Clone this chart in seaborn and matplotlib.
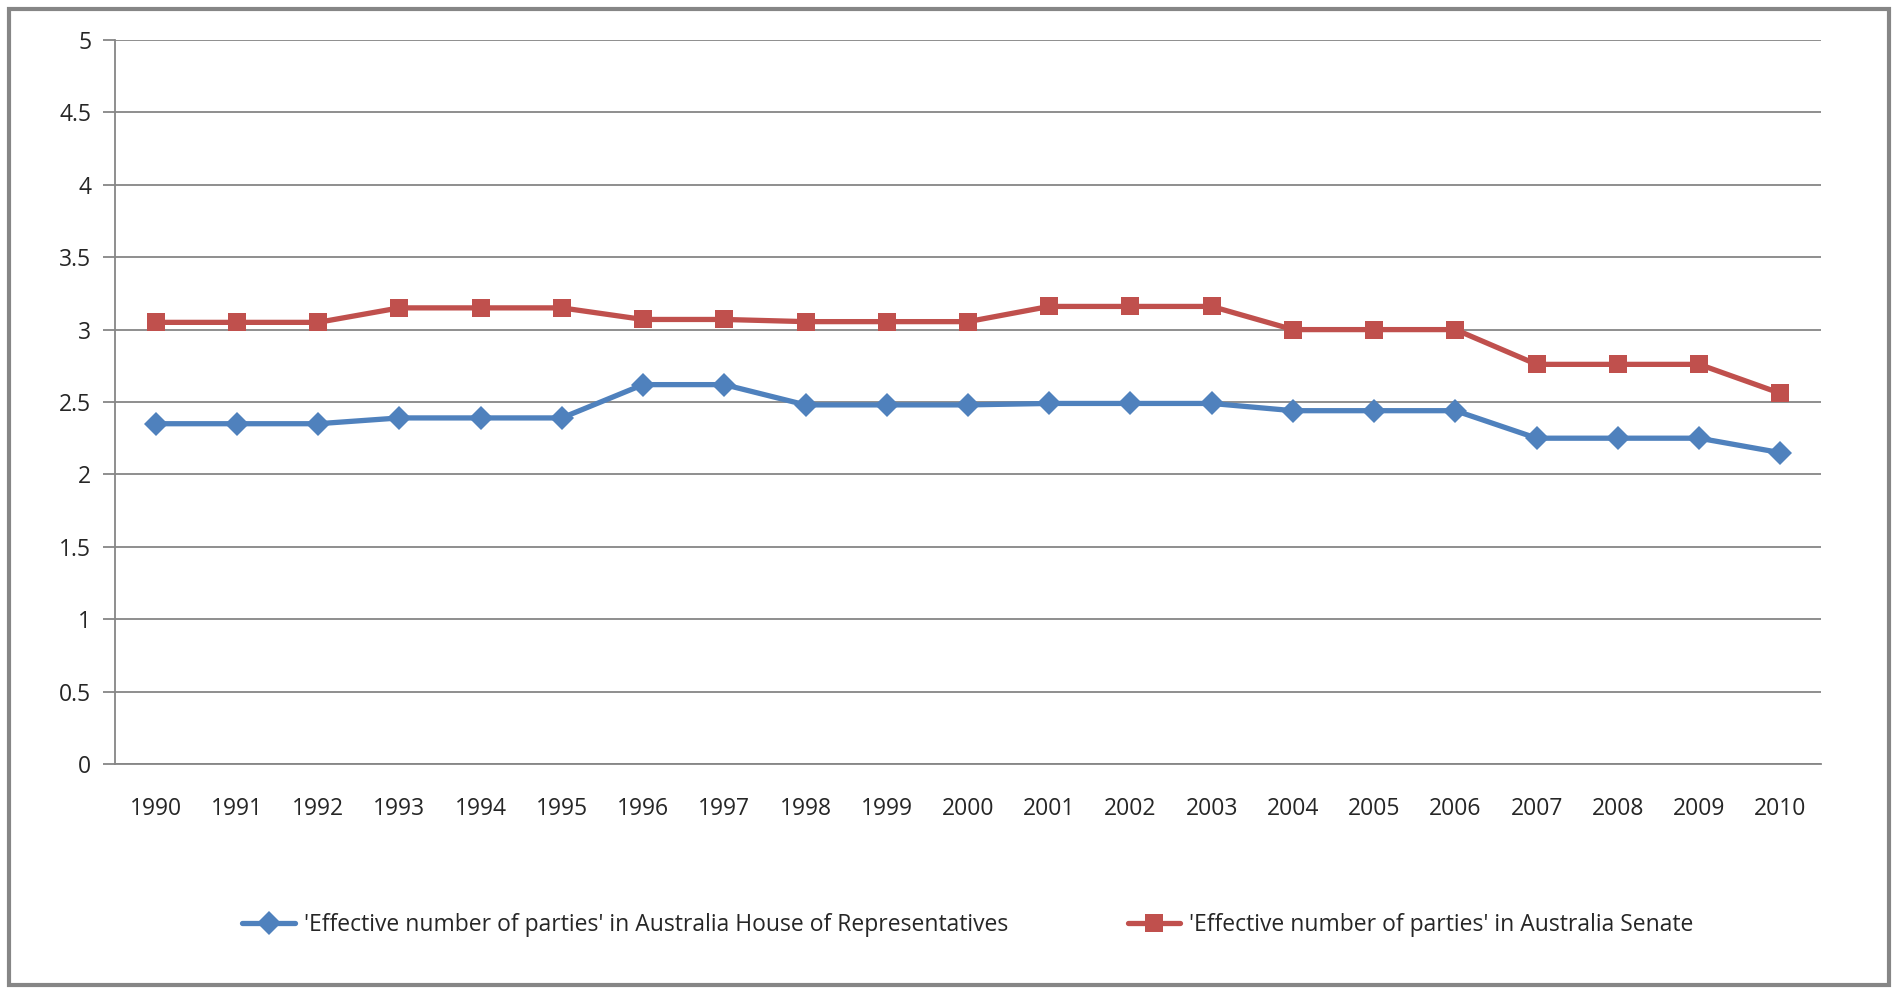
import matplotlib
matplotlib.use("Agg")
import matplotlib.pyplot as plt
import matplotlib.ticker as mtick
import pandas as pd
import seaborn as sns

# ---- data
years = [str(y) for y in range(1990, 2011)]
house = [2.35, 2.35, 2.35, 2.39, 2.39, 2.39, 2.62, 2.62, 2.48, 2.48, 2.48,
         2.49, 2.49, 2.49, 2.44, 2.44, 2.44, 2.25, 2.25, 2.25, 2.15]
senate = [3.05, 3.05, 3.05, 3.15, 3.15, 3.15, 3.07, 3.07, 3.055, 3.055, 3.055,
          3.16, 3.16, 3.16, 3.00, 3.00, 3.00, 2.76, 2.76, 2.76, 2.56]
house_label = "'Effective number of parties' in Australia House of Representatives"
senate_label = "'Effective number of parties' in Australia Senate"
y_ticks = [0, 0.5, 1, 1.5, 2, 2.5, 3, 3.5, 4, 4.5, 5]

df = pd.DataFrame({"pos": range(len(years)), "house": house, "senate": senate})

sns.set_style("white")
plt.rcParams["font.family"] = ["Open Sans", "DejaVu Sans"]

grid_c = "#868686"
fig = plt.figure(figsize=(18.96, 9.88), dpi=100)
ax = fig.add_axes([115 / 1896, 1 - 764 / 988, (1821 - 115) / 1896, (764 - 40) / 988])

sns.lineplot(data=df, x="pos", y="house", ax=ax, color="#4F81BD", lw=3.8,
             marker="D", markersize=12, markeredgewidth=0, label=house_label)
sns.lineplot(data=df, x="pos", y="senate", ax=ax, color="#C0504D", lw=3.8,
             marker="s", markersize=13.5, markeredgewidth=0, label=senate_label)

ax.set_xlim(-0.5, len(years) - 0.5)
ax.set_ylim(0, 5)
ax.set_xticks(range(len(years)))
ax.set_xticklabels(years)
ax.set_xticks([i - 0.5 for i in range(len(years) + 1)], minor=True)
ax.tick_params(axis="x", which="major", length=0, pad=24, labelsize=16.5)
ax.tick_params(axis="x", which="minor", length=9, width=1.3, color=grid_c, direction="out")
ax.set_yticks(y_ticks)
ax.yaxis.set_major_formatter(mtick.FormatStrFormatter("%g"))
ax.tick_params(axis="y", length=9, width=1.3, color=grid_c, direction="out",
               pad=8, labelsize=16.5, left=True)
ax.yaxis.grid(True, color=grid_c, lw=1.3)
ax.set_axisbelow(True)
ax.set_xlabel("")
ax.set_ylabel("")
for s in ["top", "right"]:
    ax.spines[s].set_visible(False)
for s in ["left", "bottom"]:
    ax.spines[s].set_color(grid_c)
    ax.spines[s].set_linewidth(1.3)

ax.legend(loc="center", bbox_to_anchor=(0.5, 1 - (925 - 40) / (764 - 40)),
          ncol=2, frameon=False, fontsize=16.5, handlelength=2.3, columnspacing=5.2,
          handletextpad=0.4)

# outer chart border
fig.patches.append(plt.Rectangle((9 / 1896, 3 / 988), 1880 / 1896, 976 / 988,
                                 transform=fig.transFigure, fill=False,
                                 edgecolor=grid_c, lw=3))

plt.savefig("out.png", dpi=100)
